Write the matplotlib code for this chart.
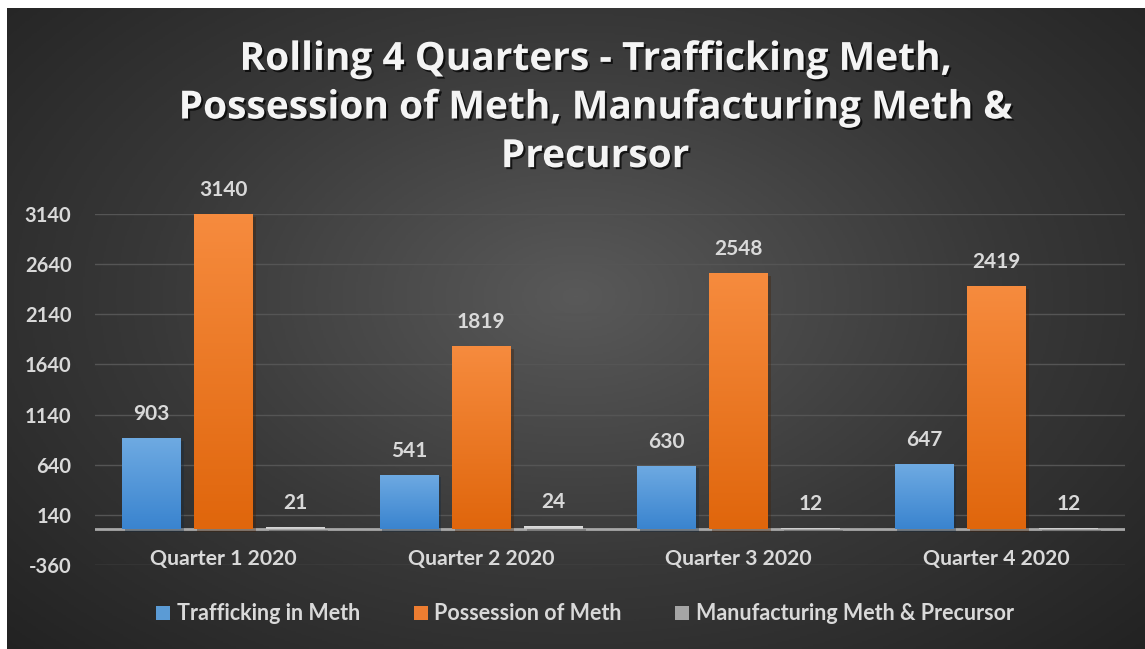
import numpy as np
import matplotlib
matplotlib.use("Agg")
import matplotlib.pyplot as plt
import matplotlib.patheffects as pe
from matplotlib.patches import Patch
from matplotlib.colors import LinearSegmentedColormap

# chart data
quarters = ["Quarter 1 2020", "Quarter 2 2020", "Quarter 3 2020", "Quarter 4 2020"]
series_names = ["Trafficking in Meth", "Possession of Meth", "Manufacturing Meth & Precursor"]
trafficking = [903, 541, 630, 647]
possession = [3140, 1819, 2548, 2419]
manufacturing = [21, 24, 12, 12]
y_ticks = [-360, 140, 640, 1140, 1640, 2140, 2640, 3140]

title = "Rolling 4 Quarters - Trafficking Meth,\nPossession of Meth, Manufacturing Meth &\nPrecursor"

# (top, bottom) colours of the bar gradients
bar_colors = [("#6eaae2", "#3a84cf"), ("#f68b3e", "#e0660c"), ("#e0e0e0", "#c8c8c8")]
legend_colors = ["#5b9bd5", "#ed7d31", "#a5a5a5"]
text_col = "#d9d9d9"
font = "Lato"

W, H = 1145, 649
fig = plt.figure(figsize=(W / 100, H / 100), dpi=100)
fig.patch.set_facecolor("white")

# radial dark background
bg = fig.add_axes([7 / W, 0, 1 - 7 / W, (H - 8) / H])
bg.set_axis_off()
yy, xx = np.mgrid[0:1:400j, 0:1:700j]
r = np.sqrt(((xx - 0.5) / 0.75) ** 2 + ((yy - 0.45) / 0.85) ** 2)
bg_cmap = LinearSegmentedColormap.from_list("bg", ["#595959", "#383838", "#1f1f1f"])
bg.imshow(np.clip(r, 0, 1), cmap=bg_cmap, vmin=0, vmax=1, aspect="auto", extent=[0, 1, 0, 1])
bg.set_xlim(0, 1)
bg.set_ylim(0, 1)

# main plot area
x0, x1 = 95, 1125
y_top, y_bot = 214, 565
ax = fig.add_axes([x0 / W, (H - y_bot) / H, (x1 - x0) / W, (y_bot - y_top) / H])
ax.set_facecolor("none")
for s in ax.spines.values():
    s.set_visible(False)

ax.set_yticks(y_ticks)
ax.set_yticklabels([str(t) for t in y_ticks], color=text_col, fontsize=14.5,
                   fontweight="bold", fontfamily=font)
ax.tick_params(axis="y", length=0, pad=17)
ax.set_xticks([])
ax.grid(axis="y", color="#555555", linewidth=1)
ax.set_axisbelow(True)
ax.axhline(0, color="#a8a8a8", linewidth=2, zorder=1.5)

x = np.arange(len(quarters))
width = 0.229
offsets = [-0.28, 0, 0.28]
grad = np.linspace(1, 0, 100).reshape(-1, 1)

for k, vals in enumerate([trafficking, possession, manufacturing]):
    bars = ax.bar(x + offsets[k], vals, width, color=bar_colors[k][1], zorder=2,
                  path_effects=[pe.SimplePatchShadow(offset=(2, -2), alpha=0.35), pe.Normal()])
    cm = LinearSegmentedColormap.from_list("g%d" % k, [bar_colors[k][1], bar_colors[k][0]])
    for b, v in zip(bars, vals):
        bx, bw = b.get_x(), b.get_width()
        im = ax.imshow(grad, cmap=cm, aspect="auto", extent=[bx, bx + bw, 0, v], zorder=3)
        im.set_clip_path(b)
        ax.annotate(str(v), (bx + bw / 2, v), xytext=(0, 24), textcoords="offset pixels",
                    ha="center", va="center", color=text_col, fontsize=15,
                    fontweight="bold", fontfamily=font)

ax.set_xlim(-0.5, 3.5)
ax.set_ylim(-360, 3140)

for i, q in enumerate(quarters):
    ax.annotate(q, (i, 0), xytext=(0, -30), textcoords="offset pixels", ha="center",
                va="center", color=text_col, fontsize=15.3, fontweight="bold", fontfamily=font)

fig.text(595 / W, (H - 108) / H, title, ha="center", va="center", multialignment="center",
         color="#f4f4f4", fontsize=28, fontweight="bold", fontfamily="Open Sans", linespacing=1.32,
         path_effects=[pe.withSimplePatchShadow(offset=(1.5, -1.5), shadow_rgbFace="black", alpha=0.7)])

handles = [Patch(facecolor=c, edgecolor="none") for c in legend_colors]
leg = fig.legend(handles, series_names, loc="center", bbox_to_anchor=(585 / W, (H - 614) / H),
                 ncol=3, frameon=False, handlelength=0.65, handleheight=0.65, handletextpad=0.3,
                 columnspacing=2.5, prop={"family": font, "weight": "bold", "size": 15.5})
for t in leg.get_texts():
    t.set_color(text_col)

fig.savefig("out.png", dpi=100)
